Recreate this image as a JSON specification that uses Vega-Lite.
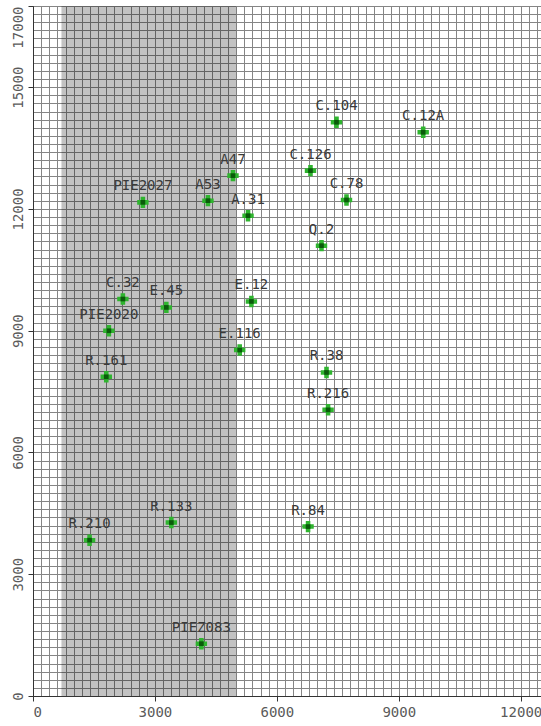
{
  "$schema": "https://vega.github.io/schema/vega-lite/v6.json",
  "width": 508,
  "height": 690,
  "padding": {"left": 0, "top": 5, "right": 0, "bottom": 0},
  "background": "white",
  "config": {
    "view": {"stroke": "#444", "strokeWidth": 1},
    "axis": {
      "domainColor": "#333",
      "tickColor": "#333",
      "tickSize": 5,
      "gridColor": "#858585",
      "gridWidth": 1,
      "gridOpacity": 1,
      "labelFont": "DejaVu Sans Mono",
      "labelFontSize": 14,
      "labelColor": "#5a5a5a",
      "labelOverlap": false
    },
    "axisY": {"minExtent": 33, "maxExtent": 33, "labelPadding": 3},
    "axisX": {"labelPadding": 4}
  },
  "datasets": {
    "band": [{"start": 700, "end": 5000}],
    "wells": [
      {"name": "C.104", "x": 7468, "y": 14135},
      {"name": "C.12A", "x": 9601, "y": 13888},
      {"name": "A47", "x": 4921, "y": 12821},
      {"name": "C.126", "x": 6828, "y": 12944},
      {"name": "PIE2027", "x": 2704, "y": 12162},
      {"name": "A53", "x": 4305, "y": 12204},
      {"name": "C.78", "x": 7714, "y": 12221},
      {"name": "A.31", "x": 5291, "y": 11834},
      {"name": "Q.2", "x": 7099, "y": 11095},
      {"name": "C.32", "x": 2212, "y": 9781},
      {"name": "E.45", "x": 3281, "y": 9574},
      {"name": "E.12", "x": 5374, "y": 9721},
      {"name": "PIE2020", "x": 1867, "y": 8999},
      {"name": "E.116", "x": 5086, "y": 8523},
      {"name": "R.161", "x": 1803, "y": 7865},
      {"name": "R.38", "x": 7222, "y": 7971},
      {"name": "R.216", "x": 7261, "y": 7051},
      {"name": "R.210", "x": 1392, "y": 3839},
      {"name": "R.133", "x": 3404, "y": 4273},
      {"name": "R.84", "x": 6768, "y": 4174},
      {"name": "PIEZ083", "x": 4143, "y": 1289}
    ]
  },
  "layer": [
    {
      "data": {"name": "band"},
      "mark": {"type": "rect", "color": "#000", "opacity": 0.24},
      "encoding": {
        "x": {"field": "start", "type": "quantitative",
          "scale": {"domain": [0, 12500], "nice": false, "zero": false},
          "axis": {"title": null, "tickCount": 62, "format": "d",
            "labelExpr": "datum.value % 3000 === 0 ? datum.label : ''",
            "tickOpacity": {"condition": {"test": "datum.value % 3000 === 0", "value": 1}, "value": 0}}},
        "x2": {"field": "end"}
      }
    },
    {
      "data": {"name": "wells"},
      "mark": {"type": "point", "shape": "cross", "filled": true, "size": 130, "color": "#2fb52f", "opacity": 1},
      "encoding": {
        "x": {"field": "x", "type": "quantitative",
          "scale": {"domain": [0, 12500], "nice": false, "zero": false},
          "axis": {"title": null, "tickCount": 62, "format": "d",
            "labelExpr": "datum.value % 3000 === 0 ? datum.label : ''",
            "tickOpacity": {"condition": {"test": "datum.value % 3000 === 0", "value": 1}, "value": 0}}},
        "y": {"field": "y", "type": "quantitative",
          "scale": {"domain": [0, 17000], "nice": false, "zero": false},
          "axis": {"title": null, "tickCount": 85, "format": "d", "labelAngle": -90,
            "labelAlign": {"condition": {"test": "datum.value === 17000", "value": "right"}, "value": "center"},
            "labelExpr": "(datum.value % 3000 === 0 || datum.value === 17000) ? datum.label : ''",
            "tickOpacity": {"condition": {"test": "datum.value % 3000 === 0 || datum.value === 17000", "value": 1}, "value": 0}}}
      }
    },
    {
      "data": {"name": "wells"},
      "mark": {"type": "square", "size": 22, "color": "#0b5a0b", "opacity": 1},
      "encoding": {
        "x": {"field": "x", "type": "quantitative"},
        "y": {"field": "y", "type": "quantitative"}
      }
    },
    {
      "data": {"name": "wells"},
      "mark": {"type": "text", "dy": -16, "font": "DejaVu Sans Mono", "fontSize": 14, "color": "#3a3a3a", "baseline": "middle", "align": "center"},
      "encoding": {
        "x": {"field": "x", "type": "quantitative"},
        "y": {"field": "y", "type": "quantitative"},
        "text": {"field": "name"}
      }
    }
  ]
}
